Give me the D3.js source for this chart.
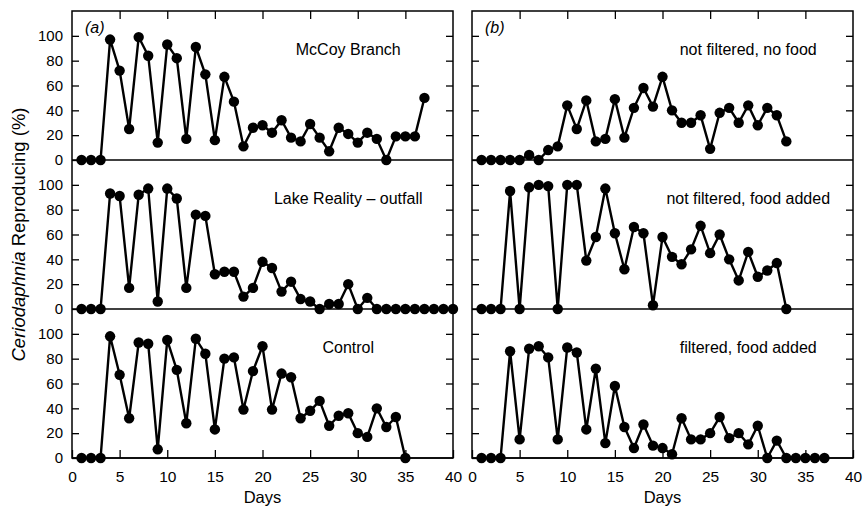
<!DOCTYPE html>
<html><head><meta charset="utf-8">
<script src="https://cdn.jsdelivr.net/npm/d3@7"></script>
<style>body{margin:0;background:#fff}svg{display:block;font-family:"Liberation Sans",Arial,sans-serif}</style>
</head><body><svg id="c" width="865" height="508"></svg>
<script>
// Data (day 1 .. n), % reproducing
const mccoy = [0,0,0,97,72,25,99,84,14,93,82,17,91,69,16,67,47,11,26,28,22,32,18,15,29,18,7,26,21,14,22,17,0,19,19,19,50];
const lakeReality = [0,0,0,93,91,17,92,97,6,97,89,17,76,75,28,30,30,10,17,38,33,14,22,8,6,0,4,4,20,0,9,0,0,0,0,0,0,0,0,0];
const control = [0,0,0,98,67,32,93,92,7,95,71,28,96,84,23,80,81,39,70,90,39,68,65,32,38,46,26,34,36,20,17,40,25,33,0];
const notFilteredNoFood = [0,0,0,0,0,4,0,8,11,44,25,48,15,17,49,18,42,58,43,67,40,30,30,36,9,38,42,30,44,28,42,36,15];
const notFilteredFoodAdded = [0,0,0,95,0,98,100,99,0,100,100,39,58,97,61,32,66,61,3,58,42,36,48,67,45,60,40,23,46,26,31,37,0];
const filteredFoodAdded = [0,0,0,86,15,88,90,81,15,89,85,23,72,12,58,25,8,27,10,8,3,32,15,15,20,33,16,20,11,26,0,14,0,0,0,0,0];
const panelLabels = [["McCoy Branch","Lake Reality \u2013 outfall","Control"],["not filtered, no food","not filtered, food added","filtered, food added"]];
const panelSeries = [[mccoy,lakeReality,control],[notFilteredNoFood,notFilteredFoodAdded,filteredFoodAdded]];
const columnTags = ["(a)","(b)"];
const yTicks = [0,20,40,60,80,100];
const xTicks = [0,5,10,15,20,25,30,35,40];

const svg = d3.select("#c");
const colRanges = [[72,453],[472,853]];
const rowTop = 11, rowH = 149;

colRanges.forEach((rng, ci) => {
  const x = d3.scaleLinear().domain([0,40]).range(rng);
  for (let ri = 0; ri < 3; ri++) {
    const y0 = rowTop + ri*rowH;
    const y = d3.scaleLinear().domain([0,120]).range([y0+rowH, y0]);
    const g = svg.append("g");
    const la = g.append("g").attr("transform", `translate(${rng[0]},0)`)
      .call(d3.axisLeft(y).tickValues(yTicks).tickSize(-7).tickPadding(9)
        .tickFormat(ci===0 ? d3.format("d") : () => ""));
    la.select(".domain").remove();
    la.selectAll("text").attr("font-size",15).attr("font-family","Liberation Sans, Arial, sans-serif").attr("fill","#000");
    la.selectAll("line").attr("stroke","#000").attr("stroke-width",1.3);
    const ra = g.append("g").attr("transform", `translate(${rng[1]},0)`)
      .call(d3.axisRight(y).tickValues(yTicks.slice(1)).tickSize(-7).tickFormat(() => ""));
    ra.select(".domain").remove();
    ra.selectAll("line").attr("stroke","#000").attr("stroke-width",1.3);
    g.append("line").attr("x1",rng[0]).attr("x2",rng[1]).attr("y1",y(0)).attr("y2",y(0))
      .attr("stroke","#000").attr("stroke-width",1.5);
    const data = panelSeries[ci][ri].map((v,i) => ({d:i+1, v}));
    g.append("path").datum(data)
      .attr("d", d3.line().x(p => x(p.d)).y(p => y(p.v)))
      .attr("fill","none").attr("stroke","#000").attr("stroke-width",2.4).attr("stroke-linejoin","round");
    g.selectAll("circle").data(data).join("circle")
      .attr("cx", p => x(p.d)).attr("cy", p => y(p.v)).attr("r",5.2).attr("fill","#000");
    g.append("text").attr("x", x(29)).attr("y", y0 + 44).attr("text-anchor","middle")
      .attr("font-size",16).text(panelLabels[ci][ri]);
  }
  const ta = svg.append("g").attr("transform",`translate(0,${rowTop})`)
    .call(d3.axisTop(x).tickValues(xTicks.slice(1,-1)).tickSize(-8).tickFormat(() => ""));
  ta.select(".domain").remove();
  ta.selectAll("line").attr("stroke","#000").attr("stroke-width",1.3);
  const ba = svg.append("g").attr("transform",`translate(0,${rowTop+3*rowH})`)
    .call(d3.axisBottom(x).tickValues(xTicks).tickSize(-8).tickPadding(13));
  ba.select(".domain").remove();
  ba.selectAll("line").attr("stroke","#000").attr("stroke-width",1.3);
  ba.selectAll("text").attr("font-size",15.5).attr("font-family","Liberation Sans, Arial, sans-serif").attr("fill","#000");
  svg.append("rect").attr("x",rng[0]).attr("y",rowTop).attr("width",rng[1]-rng[0]).attr("height",3*rowH)
    .attr("fill","none").attr("stroke","#000").attr("stroke-width",1.5);
  svg.append("text").attr("x",(rng[0]+rng[1])/2).attr("y",503).attr("text-anchor","middle")
    .attr("font-size",16.5).text("Days");
  svg.append("text").attr("x",rng[0]+13).attr("y",rowTop+22).attr("font-size",16)
    .attr("font-style","italic").text(columnTags[ci]);
});

const yt = svg.append("text").attr("transform",`translate(25,${rowTop+1.5*rowH}) rotate(-90)`)
  .attr("text-anchor","middle").attr("font-size",18.5);
yt.append("tspan").attr("font-style","italic").text("Ceriodaphnia");
yt.append("tspan").text(" Reproducing (%)");
</script></body></html>
